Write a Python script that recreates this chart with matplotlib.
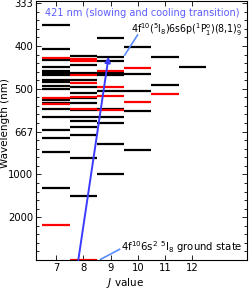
import matplotlib
matplotlib.use('Agg')
import matplotlib.pyplot as plt
from matplotlib.ticker import MultipleLocator, FixedLocator

# Niveaux d'énergie (cm^-1) par valeur de J ; rouge = parité paire, noir = parité impaire
j_values = [7, 8, 9, 10, 11, 12]

odd_levels = {
    7: [27446, 24672, 23339, 22590, 22064, 21830, 21596, 21011, 20777, 20310,
        19924, 18673, 18380, 17679, 16685, 15164, 14287, 12591, 8462],
    8: [23819, 22731, 21889, 21011, 20228, 19527, 18907, 18287, 17562, 16720,
        16217, 15515, 14580, 11948, 7503],
    9: [25960, 23737, 23234, 21865, 21561, 19725, 17620, 16720, 15972, 13495, 9991],
    10: [24837, 21772, 19784, 17445, 12826],
    11: [23667, 20427],
    12: [22497],
}

even_levels = {
    7: [23573, 18965, 18205, 4134],
    8: [23469, 23235, 21596, 20719, 19082, 17655, 0],
    9: [22064, 20158, 19199, 17503],
    10: [22450, 18439],
    11: [19339],
    12: [],
}

tick_energies = [30000, 25000, 20000, 15000, 10000, 5000]
tick_labels = ['333', '400', '500', '667', '1000', '2000']

ground_energy = 0
cooling_energy = 23737

fig = plt.figure(figsize=(2.49, 2.89), dpi=100)
ax = fig.add_axes([36 / 249, 29 / 289, 211 / 249, 259 / 289])

for j in j_values:
    for e in odd_levels[j]:
        ax.hlines(e, j - 0.5, j + 0.5, color='black', lw=1.6)
    for e in even_levels[j]:
        ax.hlines(e, j - 0.5, j + 0.5, color='red', lw=1.6)

# transition à 421 nm
ax.annotate('', xy=(8.93, cooling_energy), xytext=(7.82, ground_energy),
            arrowprops=dict(arrowstyle='-|>', color='#3b3bff', lw=1.4,
                            mutation_scale=8, shrinkA=0, shrinkB=0))

ax.text(6.59, 28850, '421 nm (slowing and cooling transition)',
        color='#5c5cff', fontsize=7.0, ha='left', va='center')

ax.plot([9.52, 9.99], [23936, 26275], color='#5b8cff', lw=1.2)
ax.text(9.74, 26900, r'4f$^{10}$($^5$I$_8$)6s6p($^1$P$^\mathrm{o}_1$)(8,1)$^\mathrm{o}_9$',
        fontsize=6.85, ha='left', va='center')

ax.plot([8.64, 9.33], [80, 1245], color='#5b8cff', lw=1.2)
ax.text(9.37, 1450, r'4f$^{10}$6s$^2$ $^5$I$_8$ ground state',
        fontsize=7.3, ha='left', va='center')

ax.set_xlim(6.27, 14.0)
ax.set_ylim(0, 30250)
ax.set_xticks(j_values)
ax.set_xticklabels([str(j) for j in j_values])
ax.yaxis.set_major_locator(FixedLocator(tick_energies))
ax.set_yticklabels(tick_labels)
ax.yaxis.set_minor_locator(MultipleLocator(1000))

ax.tick_params(axis='both', which='both', direction='in', top=True, right=True,
               labelsize=7.2, width=0.6, pad=2)
ax.tick_params(which='major', length=3.5)
ax.tick_params(which='minor', length=2)
for s in ax.spines.values():
    s.set_linewidth(0.8)

ax.set_ylabel('Wavelength (nm)', fontsize=7.5)
ax.yaxis.set_label_coords(-0.122, 0.53)
ax.set_xlabel(r'$J$ value', fontsize=7.5)
ax.xaxis.set_label_coords(0.42, -0.06)

fig.savefig('out.png', dpi=100)
